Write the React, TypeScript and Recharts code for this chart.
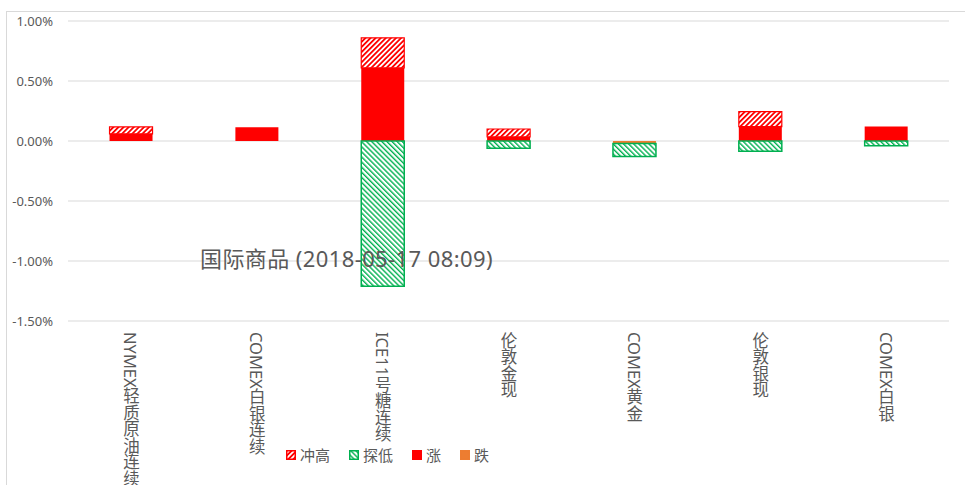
import React from "react";
import { BarChart, Bar, XAxis, YAxis, CartesianGrid, Legend } from "recharts";

const categories = [
  "NYMEX轻质原油连续",
  "COMEX白银连续",
  "ICE11号糖连续",
  "伦敦金现",
  "COMEX黄金",
  "伦敦银现",
  "COMEX白银",
];
// % values
const rise = [0.06, 0.115, 0.61, 0.035, 0, 0.12, 0.12]; // 涨
const high = [0.057, 0, 0.25, 0.065, 0, 0.125, 0]; // 冲高
const fall = [0, 0, 0, 0, -0.02, 0, 0]; // 跌
const low = [0, 0, -1.21, -0.06, -0.11, -0.085, -0.04]; // 探低
const yTicks = [-1.5, -1, -0.5, 0, 0.5, 1];

const rows = categories.map((name, i) => ({
  name,
  rise: rise[i],
  high: high[i],
  fall: fall[i],
  low: low[i],
}));

const FONT = "'Noto Sans', 'Noto Sans CJK SC', sans-serif";
const GREY = "#595959";
const RED = "#FF0000";
const GREEN = "#00B050";
const ORANGE = "#ED7D31";

const legendItems = [
  { label: "冲高", fill: "url(#hatchHigh)", stroke: RED },
  { label: "探低", fill: "url(#hatchLow)", stroke: GREEN },
  { label: "涨", fill: RED, stroke: RED },
  { label: "跌", fill: ORANGE, stroke: ORANGE },
];

const VerticalTick = (props: any) => {
  const { x, y, payload } = props;
  return (
    <text
      x={x}
      y={y + 3}
      fill={GREY}
      fontSize={16.5}
      fontFamily={FONT}
      style={{ writingMode: "vertical-rl" } as any}
    >
      {payload.value}
    </text>
  );
};

const LegendBox = () => (
  <div style={{ display: "flex", alignItems: "center", fontFamily: FONT, fontSize: 15, color: GREY }}>
    {legendItems.map((it) => (
      <div key={it.label} style={{ display: "flex", alignItems: "center", marginRight: 19 }}>
        <svg width={10} height={10} style={{ marginRight: 4 }}>
          <rect x={0.75} y={0.75} width={8.5} height={8.5} fill={it.fill} stroke={it.stroke} strokeWidth={1.5} />
        </svg>
        <span>{it.label}</span>
      </div>
    ))}
  </div>
);

export default function App() {
  return (
    <div
      style={{
        position: "absolute",
        left: 0,
        top: 0,
        width: 965,
        height: 485,
        overflow: "hidden",
        background: "#fff",
      }}
    >
      <div
        style={{
          position: "absolute",
          left: 6,
          top: 11,
          width: 1000,
          height: 600,
          border: "1px solid #d9d9d9",
        }}
      />
      <BarChart
        width={965}
        height={485}
        data={rows}
        stackOffset="sign"
        barCategoryGap="33%"
        margin={{ top: 21, right: 16, bottom: 0, left: 0 }}
        style={{ position: "absolute", left: 0, top: 0 }}
      >
        <defs>
          <pattern id="hatchHigh" patternUnits="userSpaceOnUse" width={3.6} height={3.6} patternTransform="rotate(45)">
            <rect x={0} y={0} width={3.6} height={3.6} fill="#fff" />
            <rect x={0} y={0} width={1.8} height={3.6} fill={RED} />
          </pattern>
          <pattern id="hatchLow" patternUnits="userSpaceOnUse" width={3.6} height={3.6} patternTransform="rotate(-45)">
            <rect x={0} y={0} width={3.6} height={3.6} fill="#fff" />
            <rect x={0} y={0} width={1.4} height={3.6} fill={GREEN} />
          </pattern>
        </defs>
        <CartesianGrid vertical={false} stroke="#d9d9d9" strokeWidth={1.2} />
        <XAxis
          dataKey="name"
          interval={0}
          axisLine={false}
          tickLine={false}
          height={164}
          tick={<VerticalTick />}
        />
        <YAxis
          width={68}
          domain={[-1.5, 1]}
          ticks={yTicks}
          axisLine={false}
          tickLine={false}
          tickSize={0}
          tickMargin={15}
          tickFormatter={(v: number) => v.toFixed(2) + "%"}
          tick={{ fill: GREY, fontSize: 13, fontFamily: FONT }}
        />
        <Legend
          layout="horizontal"
          verticalAlign="middle"
          align="center"
          content={() => <LegendBox />}
          wrapperStyle={{ left: 286, top: 444, width: "auto" }}
        />
        <Bar dataKey="rise" name="涨" stackId="a" fill={RED} isAnimationActive={false} />
        <Bar dataKey="high" name="冲高" stackId="a" fill="url(#hatchHigh)" stroke={RED} strokeWidth={1.2} isAnimationActive={false} />
        <Bar dataKey="fall" name="跌" stackId="a" fill={ORANGE} isAnimationActive={false} />
        <Bar dataKey="low" name="探低" stackId="a" fill="url(#hatchLow)" stroke={GREEN} strokeWidth={1.5} isAnimationActive={false} />
      </BarChart>
      <div
        style={{
          position: "absolute",
          left: 200,
          top: 246,
          fontFamily: FONT,
          fontSize: 22,
          letterSpacing: 0.4,
          lineHeight: "24px",
          color: GREY,
          whiteSpace: "nowrap",
          pointerEvents: "none",
        }}
      >
        国际商品 (2018-05-17 08:09)
      </div>
    </div>
  );
}
